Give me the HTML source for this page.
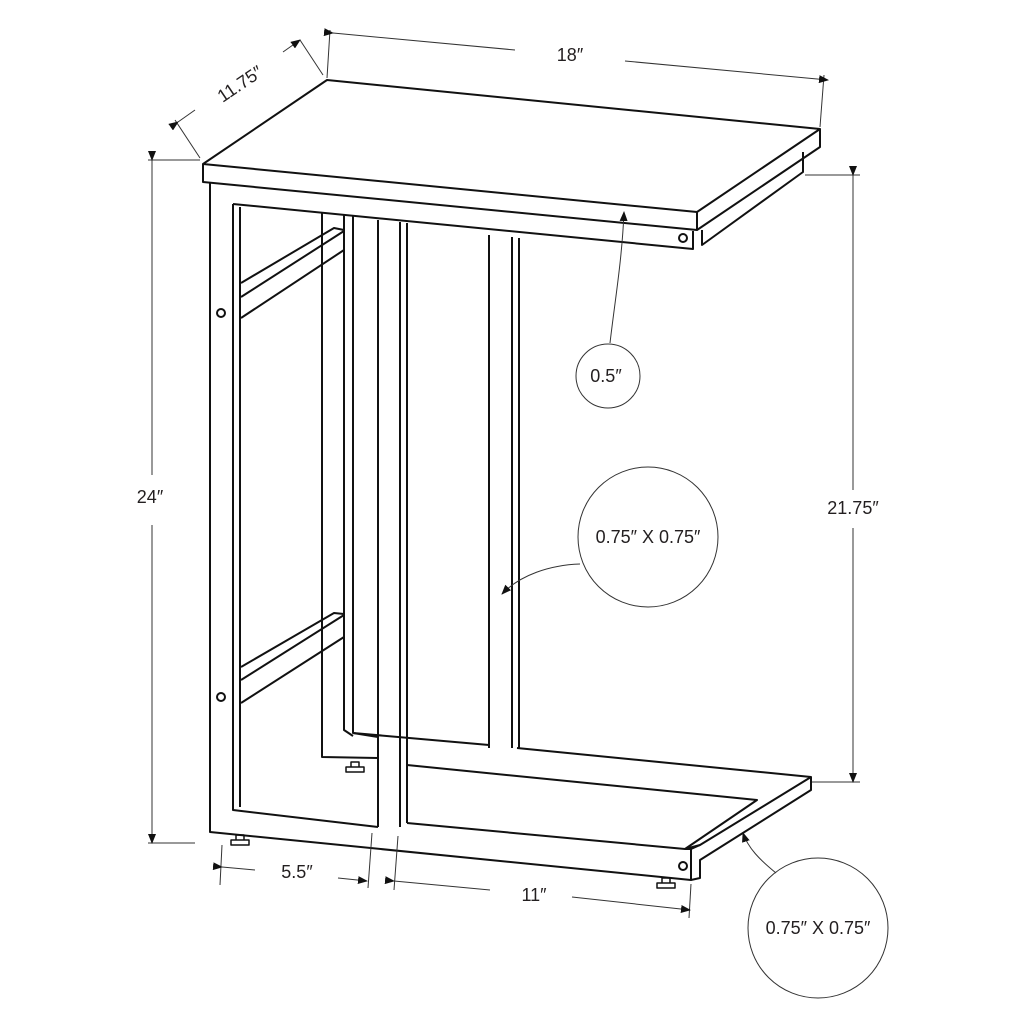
<!DOCTYPE html>
<html><head><style>html,body{margin:0;background:#fff}svg{display:block}text{font-family:"Liberation Sans",sans-serif;fill:#231f20}</style></head>
<body>
<svg width="1024" height="1024" viewBox="0 0 1024 1024" xmlns="http://www.w3.org/2000/svg">
<defs><marker id="a" markerWidth="10" markerHeight="8" refX="9" refY="4" orient="auto" markerUnits="userSpaceOnUse"><path d="M0,0 L10,4 L0,8z" fill="#111"/></marker></defs>
<g fill="none" stroke="#111" stroke-width="2" stroke-linejoin="round">
<!-- tabletop -->
<path d="M203,164 L327,80 L820,129 L697,212 Z" fill="#fff"/>
<path d="M203,164 L203,182 L697,230 L697,212"/>
<path d="M697,230 L820,147 L820,129"/>
<path d="M702,230 L702,245 L803,172 L803,152"/>
<!-- left frame -->
<path d="M210,182 L210,832 L691,880 L691,849"/>
<path d="M233,204 L693,249 L693,231"/>
<path d="M233,204 L233,810 L378,827"/>
<path d="M240,207 L240,807"/>
<path d="M407,823 L685,849 L700,845 L811,777 L811,790 L700,860 L700,878 L691,880"/>
<path d="M685,849 L691,849 L700,845"/>
<path d="M407,765 L757,800 L685,849"/>
<path d="M517,748 L811,777"/>
<!-- posts -->
<path d="M378,220 L378,827"/><path d="M400,222 L400,827"/><path d="M407,223 L407,823"/>
<path d="M344,214 L344,730 L353,736"/><path d="M353,216 L353,733 L378,737"/>
<path d="M322,212 L322,757 L378,758"/>
<path d="M353,733 L489,745"/><path d="M489,235 L489,748"/><path d="M512,237 L512,748"/><path d="M519,238 L519,748"/>
<!-- braces -->
<path d="M241,283 L334,228 L344,230 L344,250 L241,318"/><path d="M241,297 L344,231"/>
<path d="M241,667 L334,613 L344,614 L344,637 L241,703"/><path d="M241,680 L344,615"/>
<circle cx="221" cy="313" r="4"/><circle cx="221" cy="697" r="4"/><circle cx="683" cy="238" r="4"/><circle cx="683" cy="866" r="4"/>
<path d="M231,840 h18 v5 h-18z M236,835 h8 v5 h-8z" stroke-width="1.5"/>
<path d="M346,767 h18 v5 h-18z M351,762 h8 v5 h-8z" stroke-width="1.5"/>
<path d="M657,883 h18 v5 h-18z M662,878 h8 v5 h-8z" stroke-width="1.5"/>
</g>
<g fill="none" stroke="#333" stroke-width="1">
<path d="M330,30 L327,78"/><path d="M824,75 L820,127"/>
<path d="M333,33 L515,50" marker-start="url(#a)"/><path d="M625,61 L828,80" marker-end="url(#a)"/>
<path d="M300,40 L323,75"/><path d="M175,120 L200,158"/>
<path d="M178,122 L195,110" marker-start="url(#a)"/><path d="M283,52 L300,40" marker-end="url(#a)"/>
<path d="M148,160 L200,160"/><path d="M148,843 L195,843"/>
<path d="M152,160 L152,475" marker-start="url(#a)"/><path d="M152,525 L152,843" marker-end="url(#a)"/>
<path d="M805,175 L860,175"/><path d="M812,782 L860,782"/>
<path d="M853,175 L853,490" marker-start="url(#a)"/><path d="M853,528 L853,782" marker-end="url(#a)"/>
<path d="M222,845 L220,885"/><path d="M372,833 L368,888"/><path d="M398,836 L394,890"/><path d="M691,884 L689,918"/>
<path d="M222,867 L255,870" marker-start="url(#a)"/><path d="M338,878 L367,881" marker-end="url(#a)"/>
<path d="M394,881 L490,890" marker-start="url(#a)"/><path d="M572,897 L690,910" marker-end="url(#a)"/>
<path d="M610,343 C615,300 622,260 624,212" marker-end="url(#a)"/>
<path d="M580,564 C550,565 520,575 502,594" marker-end="url(#a)"/>
<path d="M776,873 C760,860 748,848 743,833" marker-end="url(#a)"/>
<circle cx="608" cy="376" r="32"/><circle cx="648" cy="537" r="70"/><circle cx="818" cy="928" r="70"/>
</g>
<g font-size="18">
<text x="570" y="61" text-anchor="middle">18″</text>
<text x="240" y="90" text-anchor="middle" transform="rotate(-34 240 84)">11.75″</text>
<text x="150" y="503" text-anchor="middle">24″</text>
<text x="853" y="514" text-anchor="middle">21.75″</text>
<text x="297" y="878" text-anchor="middle">5.5″</text>
<text x="534" y="901" text-anchor="middle">11″</text>
<text x="606" y="382" text-anchor="middle">0.5″</text>
<text x="648" y="543" text-anchor="middle">0.75″ X 0.75″</text>
<text x="818" y="934" text-anchor="middle">0.75″ X 0.75″</text>
</g>
</svg>
</body></html>
